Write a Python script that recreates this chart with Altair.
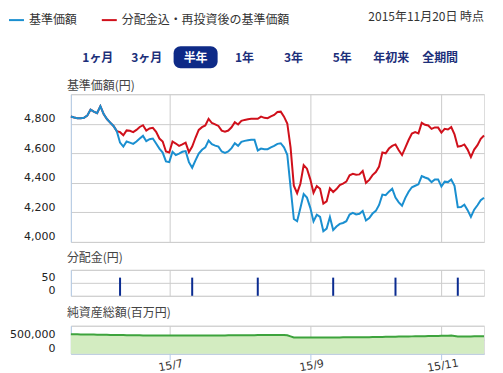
import altair as alt
import pandas as pd

# ---------------- data ----------------
holidays = ["2015-07-20", "2015-09-21", "2015-09-22", "2015-09-23", "2015-10-12", "2015-11-03"]
dates = pd.bdate_range("2015-05-20", "2015-11-20", freq="C", holidays=holidays).strftime("%Y-%m-%d").tolist()
N = len(dates)

series_names = ["基準価額", "分配金込・再投資後の基準価額"]

blue_vals = [4849, 4842, 4838, 4838, 4840, 4855, 4896, 4882, 4872, 4919,
             4865, 4832, 4808, 4785, 4750, 4672, 4645, 4680, 4672, 4664,
             4680, 4700, 4718, 4682, 4695, 4700, 4666, 4632, 4605, 4545,
             4540, 4610, 4588, 4598, 4610, 4615, 4540, 4502, 4552, 4598,
             4624, 4640, 4686, 4662, 4652, 4645, 4612, 4603, 4612, 4635,
             4668, 4650, 4678, 4684, 4688, 4691, 4691, 4619, 4632, 4628,
             4628, 4640, 4650, 4664, 4668, 4640, 4590, 4370, 4155, 4140,
             4230, 4324, 4300, 4232, 4139, 4184, 4169, 4072, 4090, 4168,
             4080, 4104, 4122, 4128, 4140, 4185, 4197, 4186, 4190, 4210,
             4145, 4162, 4192, 4210, 4250, 4320, 4316, 4340, 4360, 4300,
             4268, 4245, 4298, 4340, 4370, 4380, 4390, 4446, 4436, 4428,
             4405, 4423, 4423, 4375, 4408, 4405, 4423, 4380, 4235, 4236,
             4252, 4215, 4169, 4218, 4248, 4282, 4299]

red_vals = [4849, 4842, 4838, 4838, 4840, 4855, 4896, 4882, 4872, 4919,
            4865, 4832, 4808, 4785, 4750, 4743, 4722, 4755, 4752, 4743,
            4758, 4778, 4790, 4754, 4768, 4772, 4745, 4700, 4680, 4612,
            4605, 4680, 4666, 4650, 4660, 4672, 4608, 4645, 4705, 4758,
            4777, 4788, 4833, 4805, 4796, 4785, 4753, 4746, 4754, 4776,
            4810, 4795, 4820, 4826, 4830, 4833, 4833, 4833, 4848, 4840,
            4838, 4850, 4860, 4880, 4882, 4848, 4802, 4640, 4380, 4330,
            4394, 4520, 4496, 4425, 4333, 4378, 4360, 4259, 4274, 4363,
            4338, 4358, 4385, 4394, 4408, 4451, 4461, 4455, 4457, 4480,
            4400, 4420, 4452, 4473, 4510, 4605, 4600, 4632, 4650, 4660,
            4620, 4588, 4638, 4690, 4733, 4743, 4735, 4806, 4793, 4788,
            4765, 4775, 4774, 4740, 4766, 4761, 4777, 4728, 4645, 4649,
            4660, 4625, 4574, 4625, 4655, 4698, 4720]

dist_dates = ["2015-06-10", "2015-07-10", "2015-08-10", "2015-09-10", "2015-10-13", "2015-11-10"]
dist_vals = [70, 70, 70, 70, 70, 70]

# 純資産総額 (百万円)
nav_vals = [696000, 694000, 692000, 690000, 688000, 686000, 684000, 682000, 680000, 678000,
            676000, 674000, 672000, 670000, 668000, 666000, 664000, 662000, 660000, 658000,
            656000, 655000, 654000, 653000, 652000, 651000, 650000, 649000, 648000, 648000,
            647000, 647000, 647000, 648000, 648000, 648000, 649000, 649000, 650000, 650000,
            650000, 651000, 651000, 652000, 652000, 653000, 653000, 654000, 655000, 656000,
            657000, 658000, 659000, 660000, 661000, 662000, 663000, 664000, 665000, 666000,
            667000, 668000, 669000, 670000, 671000, 671000, 660000, 620000, 580000, 578000,
            577000, 576000, 576000, 576000, 577000, 577000, 578000, 578000, 579000, 580000,
            581000, 582000, 583000, 584000, 585000, 586000, 587000, 588000, 589000, 590000,
            591000, 592000, 594000, 596000, 598000, 600000, 602000, 604000, 606000, 608000,
            611000, 613000, 615000, 617000, 619000, 621000, 623000, 625000, 627000, 629000,
            631000, 633000, 635000, 637000, 640000, 645000, 647000, 630000, 611000, 612000,
            614000, 616000, 618000, 620000, 621000, 623000, 625000]

tick_dates = ["2015-07-01", "2015-09-01", "2015-11-02"]
tick_labels = ["15/7", "15/9", "15/11"]

buttons = ["1ヶ月", "3ヶ月", "半年", "1年", "3年", "5年", "年初来", "全期間"]
selected_button = "半年"
as_of_text = "2015年11月20日 時点"
title_price = "基準価額(円)"
title_dist = "分配金(円)"
title_nav = "純資産総額(百万円)"

# ---------------- style ----------------
JP = "Noto Sans CJK JP"
NUM = "DejaVu Sans"
BLUE = "#1a8fd0"
RED = "#d0101b"
NAVY = "#0e2a87"
NAVY_TXT = "#1c2f7a"
DIST_C = "#0b2c91"
GRID = "#cccccc"
AXIS_BLUE = "#b4cbe6"
GREEN_FILL = "#d3ecc1"
GREEN_LINE = "#3da33d"
W = 414

price_df = pd.DataFrame({
    "date": dates * 2,
    "series": [series_names[0]] * N + [series_names[1]] * N,
    "value": blue_vals + red_vals,
})
dist_df = pd.DataFrame({"date": dist_dates, "value": dist_vals})
nav_df = pd.DataFrame({"date": dates, "nav": nav_vals})
btn_df = pd.DataFrame({"label": buttons, "idx": list(range(len(buttons))),
                       "sel": [b == selected_button for b in buttons]})

xscale = alt.Scale(type="point", domain=dates, padding=0)
label_expr = "".join(f"datum.value == '{d}' ? '{l}' : " for d, l in zip(tick_dates, tick_labels)) + "''"

x_hidden = alt.Axis(values=tick_dates, labels=False, ticks=False, domain=False,
                    grid=True, gridColor=GRID, title=None)


def y_axis(values, top):
    return alt.Axis(values=values, format=",d", title=None,
                    labelExpr=f"datum.value >= {top} ? '' : datum.label",
                    ticks=False, tickSize=0, labelPadding=16, grid=True, gridColor=GRID,
                    domain=True, domainColor=AXIS_BLUE, labelFont=NUM, labelFontSize=11,
                    labelColor="#222", labelBaseline="alphabetic", labelOffset=-2)


def panel_title(text, y):
    return alt.Chart(pd.DataFrame({"t": [text]})).mark_text(
        font=JP, fontSize=12, align="left", baseline="middle", color="#444").encode(
        x=alt.value(-4), y=alt.value(y), text="t:N")


# ---------------- main price panel ----------------
color = alt.Color("series:N",
                  scale=alt.Scale(domain=series_names, range=[BLUE, RED]),
                  legend=alt.Legend(orient="none", legendX=-63, legendY=-83, direction="horizontal",
                                    title=None, symbolType="stroke", symbolStrokeWidth=2,
                                    symbolSize=225, labelFontSize=12, labelFont=JP,
                                    labelColor="#333", columnPadding=20, labelOffset=4,
                                    padding=0, labelLimit=300))

base = alt.Chart(price_df).encode(
    x=alt.X("date:O", scale=xscale, axis=x_hidden),
    y=alt.Y("value:Q", scale=alt.Scale(domain=[4000, 5000], nice=False, zero=False),
            axis=y_axis([4000, 4200, 4400, 4600, 4800, 5000], 5000)),
    color=color,
)
red_line = base.transform_filter(alt.datum.series == series_names[1]).mark_line(strokeWidth=2)
blue_line = base.transform_filter(alt.datum.series == series_names[0]).mark_line(strokeWidth=2)
lines = alt.layer(red_line, blue_line)

bscale = alt.Scale(domain=[0, len(buttons) - 1], range=[27, 370])
btn_rect = alt.Chart(btn_df).transform_filter("datum.sel").transform_calculate(
    x0="datum.idx - 0.45", x1="datum.idx + 0.45"
).mark_rect(cornerRadius=7, color=NAVY).encode(
    x=alt.X("x0:Q", scale=bscale, axis=None), x2="x1:Q",
    y=alt.value(-48), y2=alt.value(-26))
btn_text = alt.Chart(btn_df).mark_text(font=JP, fontSize=12, fontWeight="bold", baseline="middle").encode(
    x=alt.X("idx:Q", scale=bscale, axis=None), y=alt.value(-36.5), text="label:N",
    color=alt.condition("datum.sel", alt.value("white"), alt.value(NAVY_TXT)))
date_text = alt.Chart(pd.DataFrame({"t": [as_of_text]})).mark_text(
    font=JP, fontSize=12, align="right", baseline="middle", color="#333").encode(
    x=alt.value(W), y=alt.value(-77.5), text="t:N")
header = alt.layer(btn_rect, btn_text, date_text, panel_title(title_price, -8))

main = alt.layer(lines, header).resolve_scale(x="independent").properties(width=W, height=148)

# ---------------- distribution panel ----------------
dist_rules = alt.Chart(dist_df).mark_rule(strokeWidth=2, color=DIST_C).encode(
    x=alt.X("date:O", scale=xscale, axis=x_hidden),
    y=alt.Y("value:Q", scale=alt.Scale(domain=[0, 100], nice=False), axis=y_axis([0, 50, 100], 100)),
    y2=alt.datum(0),
)
dist = alt.layer(dist_rules, panel_title(title_dist, -12)).properties(width=W, height=26)

# ---------------- net assets panel ----------------
nav_area = alt.Chart(nav_df).mark_area(color=GREEN_FILL, opacity=1,
                                       line={"color": GREEN_LINE, "strokeWidth": 2}).encode(
    x=alt.X("date:O", scale=xscale,
            axis=alt.Axis(values=tick_dates, labelExpr=label_expr, labelAngle=350, labelAlign="center",
                          labelBaseline="top", ticks=True, tickSize=6, tickColor=AXIS_BLUE,
                          domain=True, domainColor=AXIS_BLUE, grid=True, gridColor=GRID, title=None,
                          labelFont=NUM, labelFontSize=11, labelColor="#333", labelPadding=0)),
    y=alt.Y("nav:Q", scale=alt.Scale(domain=[0, 1000000], nice=False),
            axis=y_axis([0, 500000, 1000000], 1000000)),
)
nav = alt.layer(nav_area, panel_title(title_nav, -13)).properties(width=W, height=28)

chart = alt.vconcat(main, dist, nav, spacing=8).properties(
    padding={"left": 0, "top": 2, "right": 6, "bottom": 5}
).configure_view(stroke=None).configure(background="white")

chart.save("out.html", embed_options={"renderer": "svg", "actions": False})
